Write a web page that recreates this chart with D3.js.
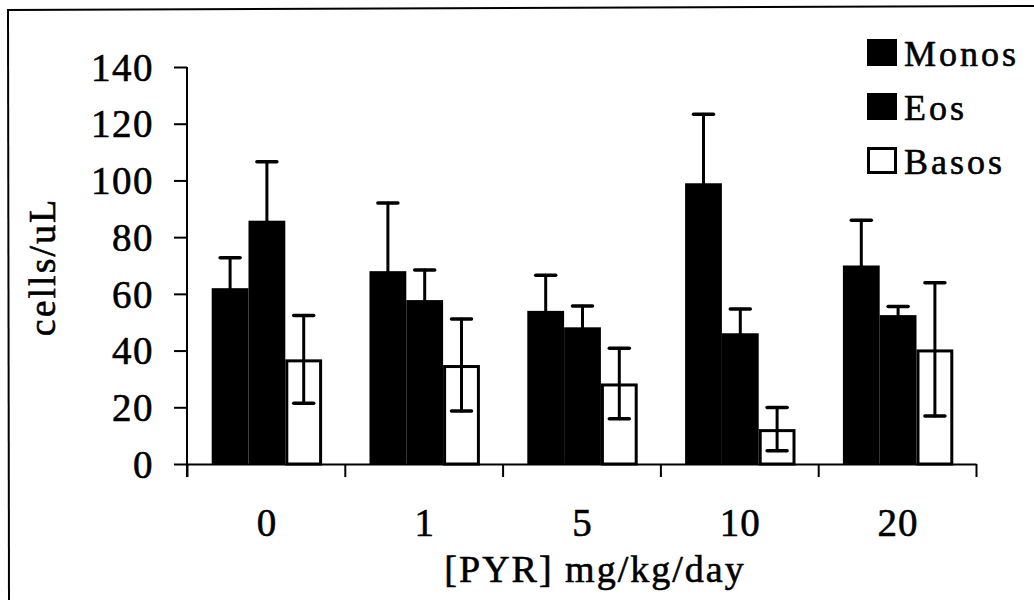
<!DOCTYPE html>
<html>
<head>
<meta charset="utf-8">
<script src="https://cdn.jsdelivr.net/npm/d3@7"></script>
<style>
  html, body { margin: 0; padding: 0; background: #fff; }
  svg { display: block; }
  text { font-family: "Liberation Serif", "Times New Roman", serif; fill: #000; stroke: #000; stroke-width: 0.6px; }
</style>
</head>
<body>
<svg id="chart" width="1034" height="600"></svg>
<script>
// ---- data ----
const categories = ["0", "1", "5", "10", "20"];
const seriesNames = ["Monos", "Eos", "Basos"];
const monos    = [62, 68, 54, 99, 70];
const monosErr = [10.7, 24, 12.6, 24.3, 16];
const eos      = [85.8, 57.8, 48.2, 46.1, 52.5];
const eosErr   = [20.8, 10.6, 7.5, 8.6, 3];
const basos    = [36.9, 34.9, 28.4, 12.3, 40.4];
const basosErr = [15.5, 16.2, 12.4, 7.6, 23.5];
const yTicks   = [0, 20, 40, 60, 80, 100, 120, 140];
const xTitle = "[PYR] mg/kg/day";
const yTitle = "cells/uL";

const values = [monos, eos, basos];
const errors = [monosErr, eosErr, basosErr];
const fills = ["#000", "#000", "#fff"];

const svg = d3.select("#chart");

// frame (scanned border, top and left visible)
svg.append("line").attr("x1", 7).attr("y1", 10).attr("x2", 1034).attr("y2", 6)
  .attr("stroke", "#000").attr("stroke-width", 2);
svg.append("line").attr("x1", 8).attr("y1", 10).attr("x2", 9).attr("y2", 600)
  .attr("stroke", "#000").attr("stroke-width", 2);

const plotLeft = 187, plotRight = 976, plotTop = 67, plotBottom = 464;

const y = d3.scaleLinear().domain([0, 140]).range([plotBottom, plotTop]);
const x0 = d3.scaleBand().domain(categories).range([plotLeft, plotRight]).paddingInner(0).paddingOuter(0);
const x1 = d3.scaleBand().domain(seriesNames).range([0, x0.bandwidth()]).paddingInner(0).paddingOuter(0.644);

// bars
const groups = svg.append("g").selectAll("g").data(categories).join("g")
  .attr("transform", d => `translate(${x0(d) + 1},0)`);

seriesNames.forEach((s, si) => {
  groups.append("rect")
    .attr("x", (d, i) => x1(s) + (si === 2 ? 1.5 : 0))
    .attr("y", (d, i) => y(values[si][i]) + (si === 2 ? 1.5 : 0))
    .attr("width", x1.bandwidth() - (si === 2 ? 3 : 0))
    .attr("height", (d, i) => y(0) - y(values[si][i]) - (si === 2 ? 1.5 : 0))
    .attr("fill", fills[si])
    .attr("stroke", si === 2 ? "#000" : "none")
    .attr("stroke-width", 3);
});

// error bars
seriesNames.forEach((s, si) => {
  const cx = x1(s) + x1.bandwidth() / 2;
  const eb = groups.append("g").attr("stroke", "#000").attr("stroke-width", 3).attr("stroke-linecap", "round");
  eb.append("line")
    .attr("x1", cx).attr("x2", cx)
    .attr("y1", (d, i) => y(values[si][i] + errors[si][i]))
    .attr("y2", (d, i) => y(Math.max(0, values[si][i] - errors[si][i])));
  eb.append("line")
    .attr("x1", cx - 10).attr("x2", cx + 10)
    .attr("y1", (d, i) => y(values[si][i] + errors[si][i]))
    .attr("y2", (d, i) => y(values[si][i] + errors[si][i]))
    .attr("stroke-width", 3.5);
  eb.append("line")
    .attr("x1", cx - 10).attr("x2", cx + 10)
    .attr("y1", (d, i) => y(Math.max(0, values[si][i] - errors[si][i])))
    .attr("y2", (d, i) => y(Math.max(0, values[si][i] - errors[si][i])))
    .attr("stroke-width", 3.5);
});

// y axis
const yAxis = svg.append("g").attr("transform", `translate(${plotLeft},0)`)
  .call(d3.axisLeft(y).tickValues(yTicks).tickSize(13).tickSizeOuter(0).tickPadding(20).tickFormat(d3.format("d")));
yAxis.select(".domain").remove();
yAxis.selectAll("line").attr("stroke", "#000").attr("stroke-width", 2);
yAxis.selectAll("text").attr("font-size", 39).attr("letter-spacing", "1.5px")
  .attr("font-family", "Liberation Serif, Times New Roman, serif").attr("dy", "0.34em");
svg.append("line").attr("x1", plotLeft).attr("x2", plotLeft).attr("y1", plotTop).attr("y2", plotBottom + 13)
  .attr("stroke", "#000").attr("stroke-width", 2);

// x axis: line + boundary ticks
const xb = d3.scaleLinear().domain([0, categories.length]).range([plotLeft, plotRight]);
const xAxisTicks = svg.append("g").attr("transform", `translate(0,${plotBottom})`)
  .call(d3.axisBottom(xb).tickValues(d3.range(categories.length + 1)).tickSize(13).tickSizeOuter(0).tickFormat(""));
xAxisTicks.select(".domain").attr("stroke", "#000").attr("stroke-width", 2);
xAxisTicks.selectAll("line").attr("stroke", "#000").attr("stroke-width", 2);

// x labels
const xLab = svg.append("g").attr("transform", `translate(0,${plotBottom})`)
  .call(d3.axisBottom(x0).tickSize(0).tickPadding(72));
xLab.select(".domain").remove();
xLab.selectAll("text").attr("font-size", 39).attr("letter-spacing", "1px")
  .attr("font-family", "Liberation Serif, Times New Roman, serif").attr("dy", "0").attr("dx", "1px");

// axis titles
svg.append("text").attr("x", 595).attr("y", 582).attr("text-anchor", "middle")
  .attr("font-size", 38).attr("letter-spacing", "2px").text(xTitle);
svg.append("text").attr("transform", "translate(55,267) rotate(-90)").attr("text-anchor", "middle")
  .attr("font-size", 38).attr("letter-spacing", "2px").text(yTitle);

// legend
const legend = svg.append("g").selectAll("g").data(seriesNames).join("g")
  .attr("transform", (d, i) => `translate(867,${66 + i * 54})`);
legend.append("rect")
  .attr("x", (d, i) => i === 2 ? 1.5 : 0)
  .attr("y", (d, i) => -27 + (i === 2 ? 1.5 : 0))
  .attr("width", (d, i) => i === 2 ? 27 : 30)
  .attr("height", (d, i) => i === 2 ? 24 : 27)
  .attr("fill", (d, i) => fills[i])
  .attr("stroke", (d, i) => i === 2 ? "#000" : "none")
  .attr("stroke-width", 3);
legend.append("text").attr("x", 37).attr("y", 0)
  .attr("font-size", 36).attr("letter-spacing", "3px").text(d => d);
</script>
</body>
</html>
